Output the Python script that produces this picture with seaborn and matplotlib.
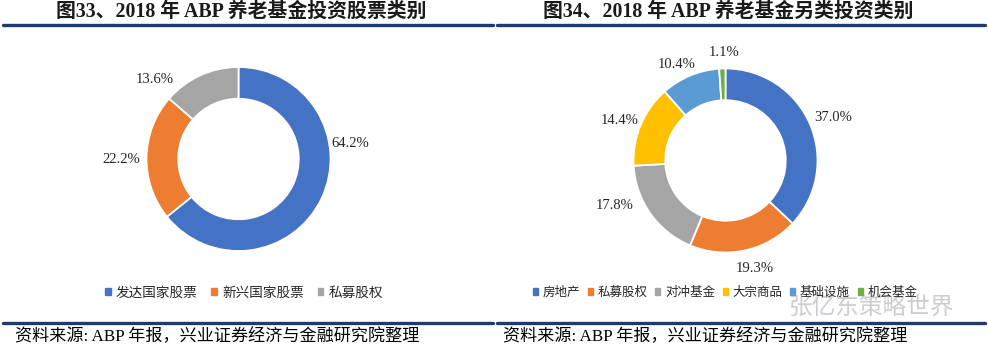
import matplotlib
matplotlib.use('Agg')
import matplotlib.pyplot as plt
import seaborn as sns
from matplotlib.lines import Line2D
from matplotlib.patches import Rectangle

sns.set_theme(style='white')
plt.rcParams['font.family'] = ['Liberation Serif', 'Noto Sans CJK SC', 'DejaVu Sans']

# data
left_title = '图33、2018 年 ABP 养老基金投资股票类别'
left_cats = ['发达国家股票', '新兴国家股票', '私募股权']
left_vals = [64.2, 22.2, 13.6]
left_colors = ['#4472C4', '#ED7D31', '#A5A5A5']

right_title = '图34、2018 年 ABP 养老基金另类投资类别'
right_cats = ['房地产', '私募股权', '对冲基金', '大宗商品', '基础设施', '机会基金']
right_vals = [37.0, 19.3, 17.8, 14.4, 10.4, 1.1]
right_colors = ['#4472C4', '#ED7D31', '#A5A5A5', '#FFC000', '#5B9BD5', '#70AD47']

source = '资料来源: ABP 年报，兴业证券经济与金融研究院整理'
watermark = '张亿东策略世界'

# label positions (in units of outer radius), Excel style
left_lbl_pos = [(1.21, 0.17), (-1.27, -0.01), (-0.91, 0.86)]
right_lbl_pos = [(1.17, 0.47), (0.32, -1.17), (-1.20, -0.49), (-1.15, 0.44), (-0.53, 1.04), (-0.01, 1.17)]

W, H = 988, 351
fig = plt.figure(figsize=(W / 100, H / 100), dpi=100)
fig.patch.set_facecolor('white')


def px_axes(cx, cy, r):
    return fig.add_axes([(cx - r) / W, (H - cy - r) / H, 2 * r / W, 2 * r / H])


def donut(ax, vals, colors, lbl_pos):
    sns.set_palette(colors)
    ax.pie(vals, colors=colors, startangle=90, counterclock=False, radius=1.0,
           wedgeprops=dict(width=0.345, edgecolor='white', linewidth=1.3))
    for v, (x, y) in zip(vals, lbl_pos):
        ax.text(x, y, f'{v:.1f}%', ha='center', va='center', fontsize=10.5,
                color='#262626')
    ax.set_xlim(-1, 1)
    ax.set_ylim(-1, 1)
    ax.set_aspect('equal')
    ax.axis('off')


donut(px_axes(238.5, 159, 92), left_vals, left_colors, left_lbl_pos)
donut(px_axes(725.5, 160.5, 92), right_vals, right_colors, right_lbl_pos)

# titles and rules
navy = '#1F3A70'
fig.text(241 / W, 1 - 12 / H, left_title, ha='center', va='center', fontsize=14.3, fontweight='bold', color='#1a1a1a')
fig.text(728 / W, 1 - 12 / H, right_title, ha='center', va='center', fontsize=14.3, fontweight='bold', color='#1a1a1a')
for x0, x1 in [(3, 493), (497, 985)]:
    fig.add_artist(Line2D([x0 / W, x1 / W], [1 - 25 / H] * 2, color=navy, lw=2.4))
    fig.add_artist(Line2D([x0 / W, x1 / W], [1 - 323 / H] * 2, color=navy, lw=2.4))

fig.text(15 / W, 1 - 337 / H, source, ha='left', va='center', fontsize=12.3, color='black')
fig.text(503 / W, 1 - 337 / H, source, ha='left', va='center', fontsize=12.3, color='black')


# legends
def legend(cats, colors, cx, fs, gap):
    handles = [Rectangle((0, 0), 1, 1, color=c) for c in colors]
    fig.legend(handles, cats, loc='center', bbox_to_anchor=(cx / W, 1 - 293 / H),
               ncol=len(cats), frameon=False, fontsize=fs, handlelength=0.4, handleheight=0.4,
               handletextpad=0.4, columnspacing=gap, borderpad=0)


legend(left_cats, left_colors, 244, 9.8, 1.0)
legend(right_cats, right_colors, 725, 9.0, 0.6)

# watermark
fig.text(872 / W, 1 - 307 / H, watermark, ha='center', va='center', fontsize=17,
         color='#9a9aa8', alpha=0.5, family=['Noto Sans CJK SC'])

fig.savefig('out.png', dpi=100, facecolor='white')
